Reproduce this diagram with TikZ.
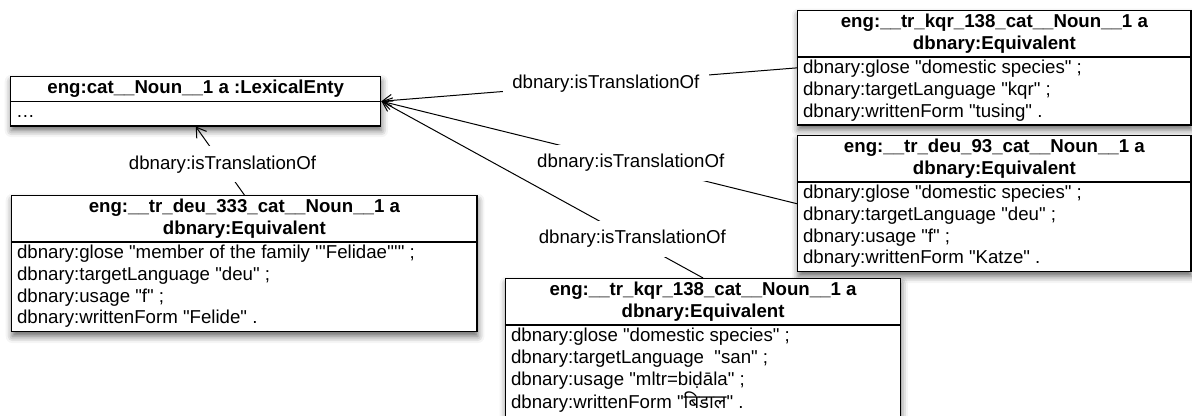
\documentclass[tikz,border=0pt]{standalone}
\usepackage{fontspec}
\newfontfamily\umlfont{Liberation Sans}
\newfontfamily\devafont[Script=Devanagari]{Noto Sans}
\usetikzlibrary{arrows.meta,shapes.multipart,shadows.blur}

\begin{document}
\begin{tikzpicture}[x=0.75pt,y=0.75pt,yscale=-1,xscale=1,
  every node/.style={font=\umlfont\fontsize{14}{16.3}\selectfont},
  classbox/.style={rectangle split,rectangle split parts=2,
    rectangle split part align={center,left},draw,line width=1.1pt,fill=white,
    anchor=north west,inner xsep=4pt,inner ysep=0.5pt,
    blur shadow={shadow xshift=0.5pt,shadow yshift=-3.5pt,shadow blur radius=5pt,shadow opacity=60}},
  translink/.style={-{Straight Barb[length=7pt,width=9pt]},line width=0.75pt},
  linklabel/.style={fill=white,inner sep=7pt}]
\useasboundingbox (0,0) rectangle (1192,416);
\clip (0,0) rectangle (1192,416);

%Class: lexical entry
\node[classbox,minimum width=277.5pt] (lex) at (10,76)
  {\begin{tabular}{@{}c@{}}\bfseries eng:cat\_\_Noun\_\_1 a :LexicalEnty\end{tabular}
   \nodepart{two}\begin{tabular}{@{}l@{}}…\end{tabular}};
%Class: kqr equivalent (top right)
\node[classbox,minimum width=295pt] (kqrA) at (797,10)
  {\begin{tabular}{@{}c@{}}\bfseries eng:\_\_tr\_kqr\_138\_cat\_\_Noun\_\_1 a\\\bfseries dbnary:Equivalent\end{tabular}
   \nodepart{two}\begin{tabular}{@{}l@{}}dbnary:glose "domestic species" ;\\dbnary:targetLanguage "kqr" ;\\dbnary:writtenForm "tusing" .\end{tabular}};
%Class: deu equivalent 93
\node[classbox,minimum width=295pt] (deuA) at (797,135)
  {\begin{tabular}{@{}c@{}}\bfseries eng:\_\_tr\_deu\_93\_cat\_\_Noun\_\_1 a\\\bfseries dbnary:Equivalent\end{tabular}
   \nodepart{two}\begin{tabular}{@{}l@{}}dbnary:glose "domestic species" ;\\dbnary:targetLanguage "deu" ;\\dbnary:usage "f" ;\\dbnary:writtenForm "Katze" .\end{tabular}};
%Class: deu equivalent 333
\node[classbox,minimum width=349pt] (deuB) at (11,195)
  {\begin{tabular}{@{}c@{}}\bfseries eng:\_\_tr\_deu\_333\_cat\_\_Noun\_\_1 a\\\bfseries dbnary:Equivalent\end{tabular}
   \nodepart{two}\begin{tabular}{@{}l@{}}dbnary:glose "member of the family '''Felidae'''" ;\\dbnary:targetLanguage "deu" ;\\dbnary:usage "f" ;\\dbnary:writtenForm "Felide" .\end{tabular}};
%Class: san equivalent (bottom)
\node[classbox,minimum width=296pt] (kqrB) at (505,278)
  {\begin{tabular}{@{}c@{}}\bfseries eng:\_\_tr\_kqr\_138\_cat\_\_Noun\_\_1 a\\\bfseries dbnary:Equivalent\end{tabular}
   \nodepart{two}\begin{tabular}{@{}l@{}}dbnary:glose "domestic species" ;\\dbnary:targetLanguage\ \ "san" ;\\dbnary:usage "mltr=biḍāla" ;\\dbnary:writtenForm "{\devafont बिडाल}" .\\ \end{tabular}};

%Links
\draw[translink] (kqrA.west) -- node[linklabel,pos=0.46] (lblA) {dbnary:isTranslationOf} (lex.east);
\draw[translink] (deuA.west) -- node[linklabel,pos=0.40] (lblB) {dbnary:isTranslationOf} (lex.east);
\draw[translink] (kqrB.north) -- node[linklabel,pos=0.22] (lblC) {dbnary:isTranslationOf} (lex.east);
\draw[translink] (deuB.north) -- node[linklabel,pos=0.45] (lblD) {dbnary:isTranslationOf} (lex.south);

\end{tikzpicture}
\end{document}
